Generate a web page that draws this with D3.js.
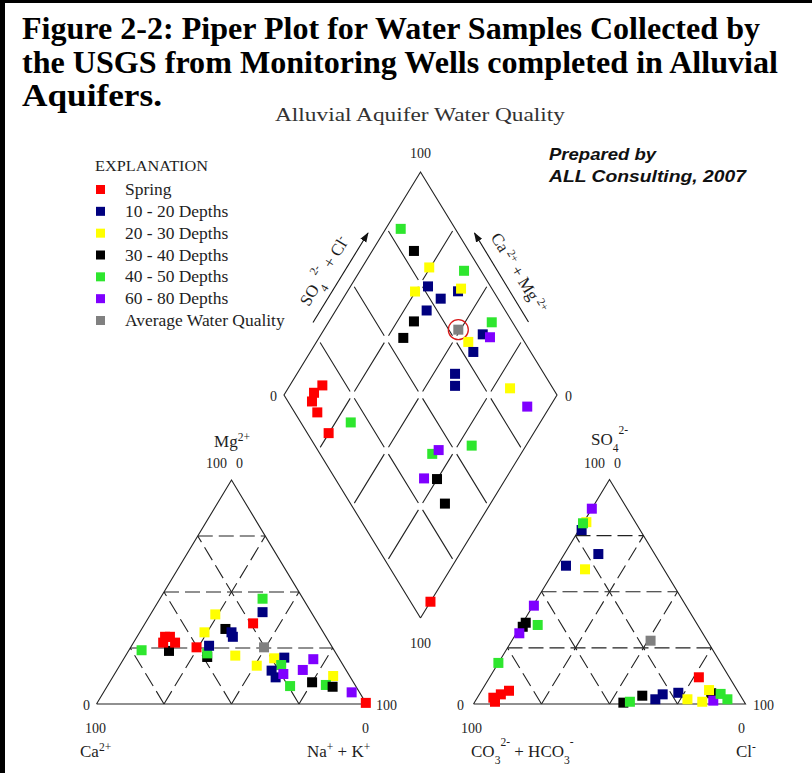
<!DOCTYPE html>
<html>
<head>
<meta charset="utf-8">
<script src="https://cdn.jsdelivr.net/npm/d3@7"></script>
<style>
  body { margin: 0; background: #fff; }
  svg { display: block; }
</style>
</head>
<body>
<svg id="chart" width="812" height="773"></svg>
<script>
// ---- Sample groups ----
const groupKeys = ["spring", "d10", "d20", "d30", "d40", "d60", "avg"];
const groupLabels = ["Spring", "10 - 20 Depths", "20 - 30 Depths", "30 - 40 Depths",
                     "40 - 50 Depths", "60 - 80 Depths", "Average Water Quality"];
const groupColors = ["#ff0000", "#00007f", "#ffff00", "#000000", "#2ee62e", "#7f00ff", "#808080"];

// ---- Cation triangle: [group, Mg %, Na+K %] (Ca % is the remainder) ----
const cationSamples = [
  ["d40", 47, 38], ["d10", 41, 41], ["d20", 40, 24], ["spring", 36, 40],
  ["d30", 33.5, 31], ["d10", 32, 34], ["d10", 30, 35.5], ["d20", 32, 24],
  ["d30", 23.7, 15],
  ["spring", 30, 10.4], ["spring", 30, 12.2], ["spring", 27.4, 11], ["spring", 27.4, 15.4],
  ["d40", 24, 4.7], ["d30", 21, 30.5], ["d40", 22.6, 29.7], ["spring", 25.3, 24.4],
  ["d10", 26, 28.7], ["d20", 21.6, 40.6], ["avg", 25.3, 49.4], ["d20", 20.4, 55.6],
  ["d10", 20.7, 59.2], ["d40", 17.4, 59.7], ["d10", 14.9, 57.4], ["d10", 11.9, 60.4],
  ["d60", 13.4, 62.5], ["d20", 17.1, 50.8], ["d60", 20, 70.3], ["d60", 15.2, 68.8],
  ["d40", 8, 67.7], ["d30", 9.7, 75], ["d20", 12.5, 81.4], ["d40", 8.5, 80.7],
  ["d30", 7.7, 83.6], ["d60", 5.2, 91.9], ["spring", 0.5, 99.5]
];

// ---- Anion triangle: [group, SO4 %, Cl %] (CO3+HCO3 % is the remainder) ----
const anionSamples = [
  ["d20", 81, 1], ["d10", 77.5, 1], ["d40", 80.5, 0], ["d60", 87, 0],
  ["d10", 66.8, 12.5], ["d10", 61.6, 3.2], ["d20", 60, 11],
  ["d60", 43.8, 0.3], ["d30", 36.2, 1.1], ["d30", 34.4, 0.9], ["d60", 31.5, 1.1],
  ["d40", 35.2, 6], ["d40", 18.3, 0], ["avg", 28.2, 51],
  ["spring", 1, 7.4], ["spring", 2.8, 5.9], ["spring", 4.3, 7.9], ["spring", 5.9, 10.1],
  ["d30", 0.6, 54.8], ["d40", 1, 57], ["d30", 3.7, 60.2],
  ["d10", 2.1, 65.8], ["d10", 4.3, 67.4], ["d10", 5, 72.8],
  ["spring", 11.9, 76.9], ["d30", 4.8, 85], ["d20", 6.2, 83.5], ["d20", 2.1, 77.6],
  ["d20", 1, 83.6], ["d60", 1.5, 87.4], ["d40", 4.5, 88.6], ["d40", 2.1, 92.3]
];

// ---- Central field: [group, SO4+Cl %, Ca+Mg %] ----
const diamondSamples = [
  ["d40", 80, 94.5], ["d30", 79.9, 84.7], ["d20", 81.8, 75.4], ["d40", 93.8, 61.9],
  ["d10", 77.1, 71.6], ["d20", 71.2, 75.2], ["d10", 79, 64.2], ["d10", 87, 59.5],
  ["d20", 88.7, 59], ["d10", 71.2, 66.7], ["d30", 64.1, 68.9], ["d30", 56.5, 69.1],
  ["avg", 78.5, 50.8], ["d40", 92.4, 40.2], ["d10", 86.4, 40.8], ["d60", 88.4, 37.5],
  ["d20", 79.4, 44.4], ["d10", 79, 40.3], ["d10", 67.4, 42.1], ["d10", 64.7, 39.4],
  ["d20", 84.3, 18.7], ["d60", 86.5, 8.3],
  ["spring", 16.2, 88.1], ["spring", 11.5, 89.5], ["spring", 8.8, 88.3],
  ["spring", 8.3, 83.9], ["spring", 7.8, 75.1], ["d40", 18.3, 69.4],
  ["d40", 41.1, 32.5], ["d60", 44.3, 31], ["d40", 57.4, 19.9],
  ["d60", 32.6, 30], ["d30", 37.2, 25.1], ["d30", 34.6, 16.7], ["spring", 7.3, 0]
];

const gridSteps = [25, 50, 75];

// ---- Drawing ----
const svg = d3.select("#chart");
const color = d3.scaleOrdinal().domain(groupKeys).range(groupColors);
const serif = "'Liberation Serif', 'Times New Roman', serif";
const ink = "#1e1e1e";
const MARK = 10;

// page frame
svg.append("rect").attr("x", 0).attr("y", 0).attr("width", 5).attr("height", 773).attr("fill", "#000");
svg.append("rect").attr("x", 0).attr("y", 0).attr("width", 812).attr("height", 3).attr("fill", "#000");

// title
const titleLines = ["Figure 2-2: Piper Plot for Water Samples Collected by",
                    "the USGS from Monitoring Wells completed in Alluvial",
                    "Aquifers."];
const titleWidths = [738, 756, 140];
titleLines.forEach((t, i) => {
  svg.append("text").attr("x", 22).attr("y", 39 + i * 33.5)
    .attr("font-family", serif).attr("font-weight", "bold").attr("font-size", 32)
    .attr("textLength", titleWidths[i]).attr("lengthAdjust", "spacingAndGlyphs")
    .attr("fill", "#000").text(t);
});

svg.append("text").attr("x", 420).attr("y", 121).attr("text-anchor", "middle")
  .attr("font-family", serif).attr("font-size", 19).attr("fill", "#333")
  .attr("textLength", 290).attr("lengthAdjust", "spacingAndGlyphs")
  .text("Alluvial Aquifer Water Quality");

// credit
const credit = svg.append("g").attr("font-family", "'Liberation Sans', Arial, sans-serif")
  .attr("font-weight", "bold").attr("font-style", "italic").attr("font-size", 17).attr("fill", "#111");
credit.append("text").attr("x", 549).attr("y", 160).attr("textLength", 107).attr("lengthAdjust", "spacingAndGlyphs").text("Prepared by");
credit.append("text").attr("x", 549).attr("y", 182).attr("textLength", 197).attr("lengthAdjust", "spacingAndGlyphs").text("ALL Consulting, 2007");

// legend
const legend = svg.append("g").attr("font-family", serif).attr("fill", ink);
legend.append("text").attr("x", 95).attr("y", 171).attr("font-size", 14.5)
  .attr("textLength", 113).attr("lengthAdjust", "spacingAndGlyphs").text("EXPLANATION");
const legendY = d3.scalePoint().domain(groupKeys).range([189.5, 320.5]);
groupKeys.forEach((k, i) => {
  legend.append("rect").attr("x", 96).attr("y", legendY(k) - 4.5).attr("width", 9).attr("height", 9)
    .attr("fill", color(k));
  const t = legend.append("text").attr("x", 125).attr("y", legendY(k) + 5.5).attr("font-size", 16)
    .text(groupLabels[i]);
  // the legend face runs a little wider than the stock serif
  const w = t.node().getComputedTextLength();
  t.attr("textLength", w * 1.09).attr("lengthAdjust", "spacingAndGlyphs");
});

// generic helpers
const line = d3.line();
function drawPath(g, pts, dash) {
  g.append("path").attr("d", line(pts)).attr("fill", "none")
    .attr("stroke", "#222").attr("stroke-width", 1.1)
    .attr("stroke-dasharray", dash || null);
}
function drawMarks(g, data, proj) {
  g.selectAll("rect.mark").data(data).join("rect").attr("class", "mark")
    .attr("x", d => proj(d[1], d[2])[0] - MARK / 2)
    .attr("y", d => proj(d[1], d[2])[1] - MARK / 2)
    .attr("width", MARK).attr("height", MARK)
    .attr("fill", d => color(d[0]));
}

// ternary projection: top %, right-corner %
function ternary(left, right, base, apex) {
  const x = d3.scaleLinear().domain([0, 100]).range([left, right]);
  const y = d3.scaleLinear().domain([0, 100]).range([base, apex]);
  return (top, rt) => [x(rt + top / 2), y(top)];
}

function drawTriangle(proj) {
  const g = svg.append("g");
  const dash = "15,6";
  gridSteps.forEach(t => {
    drawPath(g, [proj(t, 0), proj(t, 100 - t)], dash);           // constant top
    drawPath(g, [proj(0, t), proj(100 - t, t)], dash);           // constant right
    drawPath(g, [proj(0, 100 - t), proj(100 - t, 0)], dash);     // constant left
  });
  drawPath(g, [proj(0, 0), proj(0, 100), proj(100, 0), proj(0, 0)]);
  return g;
}

// cation triangle
const cat = ternary(96.5, 366.5, 704, 480);
const catG = drawTriangle(cat);
drawMarks(catG, cationSamples, cat);

// anion triangle
const an = ternary(473.5, 745.5, 704, 479.5);
const anG = drawTriangle(an);
drawMarks(anG, anionSamples, an);

// central diamond: SO4+Cl (a) and Ca+Mg (c)
const xD = d3.scaleLinear().domain([-100, 100]).range([284, 557]);
const yD = d3.scaleLinear().domain([0, 200]).range([618, 172]);
const dia = (a, c) => [xD(a - c), yD(a + c)];
const diaG = svg.append("g");
const seg = Math.hypot(xD(25) - xD(0), yD(25) - yD(0));
const diaDash = `0,4,${(seg - 8).toFixed(1)},4`;
gridSteps.forEach(t => {
  drawPath(diaG, [dia(t, 0), dia(t, 100)], diaDash);
  drawPath(diaG, [dia(0, t), dia(100, t)], diaDash);
});
drawPath(diaG, [dia(0, 0), dia(0, 100), dia(100, 100), dia(100, 0), dia(0, 0)]);
drawMarks(diaG, diamondSamples, dia);
// ring around the average sample
diamondSamples.filter(d => d[0] === "avg").forEach(d => {
  const p = dia(d[1], d[2]);
  diaG.append("circle").attr("cx", p[0]).attr("cy", p[1]).attr("r", 10)
    .attr("fill", "none").attr("stroke", "#d81818").attr("stroke-width", 1.3);
});
// keep marks placed after the average above the ring
diaG.selectAll("rect.mark").filter((d, i) => i > diamondSamples.findIndex(s => s[0] === "avg")).raise();

// ---- axis labels ----
const lab = svg.append("g").attr("font-family", serif).attr("fill", ink);
function txt(x, y, parts, anchor, size) {
  const fs = size || 14;
  const t = lab.append("text").attr("x", x).attr("y", y).attr("text-anchor", anchor || "start")
    .attr("font-size", fs);
  parts.forEach(p => {
    const s = t.append("tspan").text(p[0]);
    if (p[1] === "sup") s.attr("baseline-shift", "super").attr("font-size", fs * 0.68);
    if (p[1] === "sub") s.attr("baseline-shift", "sub").attr("font-size", fs * 0.68);
    if (p[1] === "supAfterSub") s.attr("dy", -fs * 0.62).attr("font-size", fs * 0.68);
    if (p[1] === "down") s.attr("dy", fs * 0.62);
  });
  return t;
}
const NAME = 17;

// cation triangle labels
txt(232, 447, [["Mg"], ["2+", "sup"]], "middle", NAME);
txt(227, 468, [["100"]], "end");
txt(236, 468, [["0"]]);
txt(83, 710, [["0"]]);
txt(376, 710, [["100"]]);
txt(85, 733, [["100"]]);
txt(362, 733, [["0"]]);
txt(80, 757, [["Ca"], ["2+", "sup"]], "start", NAME);
txt(307, 757, [["Na"], ["+", "sup"], [" + K"], ["+", "sup"]], "start", NAME);

// anion triangle labels
txt(591, 445, [["SO"], ["4", "sub"], ["2-", "supAfterSub"]], "start", NAME);
txt(605, 468, [["100"]], "end");
txt(614, 468, [["0"]]);
txt(457, 710, [["0"]]);
txt(753, 710, [["100"]]);
txt(461, 733, [["100"]]);
txt(738, 733, [["0"]]);
txt(471, 757, [["CO"], ["3", "sub"], ["2-", "supAfterSub"], [" + HCO", "down"], ["3", "sub"], ["-", "supAfterSub"]], "start", NAME);
txt(736, 757, [["Cl"], ["-", "sup"]], "start", NAME);

// diamond labels
txt(420.5, 158, [["100"]], "middle");
txt(270, 401, [["0"]]);
txt(565, 401, [["0"]]);
txt(420.5, 648, [["100"]], "middle");

// edge arrows
const defs = svg.append("defs");
defs.append("marker").attr("id", "arrow").attr("viewBox", "0 0 10 10").attr("refX", 9).attr("refY", 5)
  .attr("markerWidth", 9).attr("markerHeight", 9).attr("orient", "auto")
  .append("path").attr("d", "M0,1.5 L10,5 L0,8.5 Z").attr("fill", "#111");
svg.append("line").attr("x1", 313).attr("y1", 322.5).attr("x2", 368).attr("y2", 233)
  .attr("stroke", "#111").attr("stroke-width", 1.1).attr("marker-end", "url(#arrow)");
svg.append("line").attr("x1", 528.5).attr("y1", 322).attr("x2", 474.5).attr("y2", 233)
  .attr("stroke", "#111").attr("stroke-width", 1.1).attr("marker-end", "url(#arrow)");

const ang = Math.atan2(yD(0) - yD(100), xD(0) - xD(-100)) * 180 / Math.PI;  // edge slope
const leftLab = txt(0, 0, [["SO"], ["4", "sub"], [" 2-", "supAfterSub"], [" + Cl", "down"], ["-", "sup"]], "middle", NAME);
leftLab.attr("transform", `translate(329,274) rotate(${-ang})`);
const rightLab = txt(0, 0, [["Ca"], [" 2+", "sup"], [" + Mg"], [" 2+", "sup"]], "middle", NAME);
rightLab.attr("transform", `translate(514,276) rotate(${ang})`);
</script>
</body>
</html>
